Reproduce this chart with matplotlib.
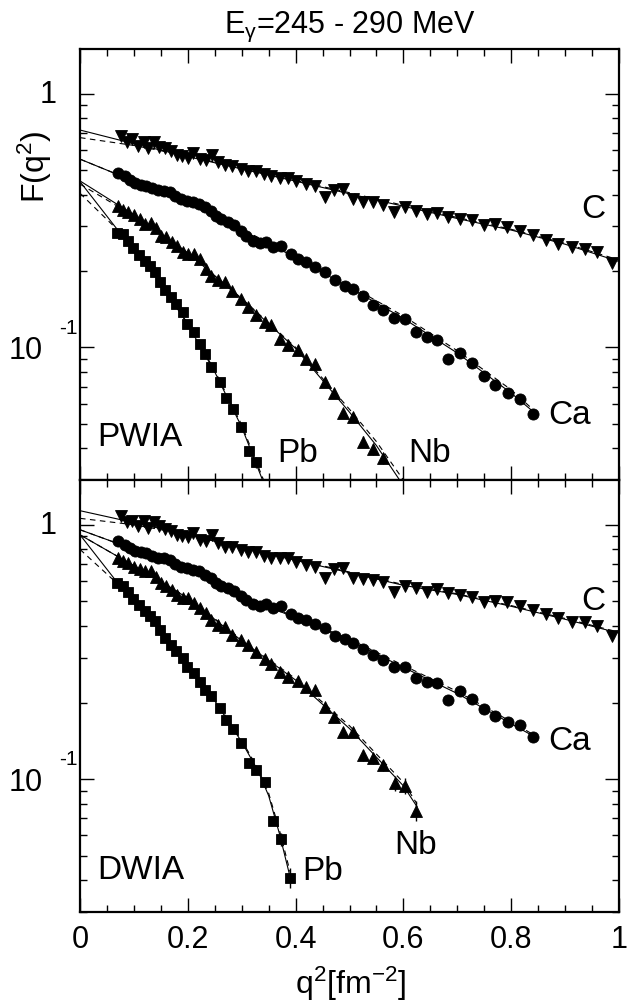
import numpy as np
import matplotlib
matplotlib.use("Agg")
import matplotlib.pyplot as plt

plt.rcParams['font.family'] = ['Liberation Sans', 'DejaVu Sans']
plt.rcParams['mathtext.fontset'] = 'custom'
plt.rcParams['mathtext.rm'] = 'Liberation Sans'
plt.rcParams['mathtext.it'] = 'Liberation Sans'
plt.rcParams['mathtext.bf'] = 'Liberation Sans:bold'

# ---------------- measured q^2 bins [fm^-2] ----------------
q_c = [0.0767, 0.0878, 0.0971, 0.1076, 0.1181, 0.1262, 0.1373, 0.1466, 0.1583, 0.1682,
       0.1800, 0.1899, 0.2004, 0.2096, 0.2220, 0.2332, 0.2449, 0.2560, 0.2684, 0.2826,
       0.2981, 0.3117, 0.3271, 0.3414, 0.3550, 0.3704, 0.3859, 0.4014, 0.4199, 0.4366,
       0.4539, 0.4712, 0.4879, 0.5071, 0.5257, 0.5442, 0.5628, 0.5826, 0.6030, 0.6234,
       0.6432, 0.6630, 0.6834, 0.7050, 0.7267, 0.7495, 0.7699, 0.7928, 0.8163, 0.8398,
       0.8646, 0.8874, 0.9122, 0.9369, 0.9598, 0.9864]
q_ca = [0.0705, 0.0829, 0.0921, 0.1027, 0.1138, 0.1231, 0.1336, 0.1447, 0.1552, 0.1664,
        0.1769, 0.1880, 0.1985, 0.2096, 0.2202, 0.2313, 0.2424, 0.2529, 0.2622, 0.2746,
        0.2857, 0.2981, 0.3086, 0.3210, 0.3333, 0.3457, 0.3581, 0.3723, 0.3909, 0.4045,
        0.4199, 0.4366, 0.4539, 0.4725, 0.4910, 0.5071, 0.5257, 0.5442, 0.5628, 0.5826,
        0.6030, 0.6234, 0.6432, 0.6630, 0.6834, 0.7050, 0.7267, 0.7495, 0.7699, 0.7947,
        0.8163, 0.8398]
q_nb = [0.0705, 0.0798, 0.0891, 0.1002, 0.1107, 0.1200, 0.1311, 0.1416, 0.1509, 0.1602,
        0.1713, 0.1806, 0.1911, 0.2004, 0.2115, 0.2220, 0.2332, 0.2437, 0.2560, 0.2684,
        0.2820, 0.2981, 0.3117, 0.3271, 0.3426, 0.3550, 0.3704, 0.3859, 0.4045, 0.4199,
        0.4366, 0.4539, 0.4712, 0.4879, 0.5071, 0.5257, 0.5442, 0.5628, 0.5844, 0.6030,
        0.6234]
q_pb = [0.0693, 0.0798, 0.0891, 0.0983, 0.1088, 0.1200, 0.1293, 0.1385, 0.1478, 0.1583,
        0.1694, 0.1787, 0.1911, 0.1991, 0.2115, 0.2220, 0.2313, 0.2437, 0.2591, 0.2715,
        0.2839, 0.2993, 0.3129, 0.3271, 0.3438, 0.3581, 0.3723, 0.3890]

# ---------------- PWIA form factors ----------------
c_pwia = [0.681, 0.645, 0.661, 0.623, 0.645, 0.608, 0.642, 0.619, 0.608, 0.595,
          0.574, 0.569, 0.560, 0.586, 0.552, 0.548, 0.572, 0.538, 0.523, 0.520,
          0.504, 0.497, 0.497, 0.482, 0.475, 0.467, 0.467, 0.453, 0.440, 0.431,
          0.390, 0.418, 0.420, 0.384, 0.375, 0.373, 0.364, 0.342, 0.359, 0.346,
          0.335, 0.340, 0.327, 0.321, 0.318, 0.304, 0.306, 0.297, 0.288, 0.278,
          0.266, 0.256, 0.248, 0.244, 0.237, 0.215]
ca_pwia = [0.4846, 0.4716, 0.4575, 0.4440, 0.4374, 0.4334, 0.4244, 0.4181, 0.4143, 0.4081,
           0.3960, 0.3842, 0.3784, 0.3727, 0.3671, 0.3562, 0.3456, 0.3304, 0.3206, 0.3111,
           0.3036, 0.2884, 0.2757, 0.2634, 0.2579, 0.2595, 0.2480, 0.2517, 0.2335, 0.2232,
           0.2165, 0.2070, 0.1978, 0.1835, 0.1753, 0.1701, 0.1591, 0.1463, 0.1398, 0.1304,
           0.1297, 0.1149, 0.1098, 0.1066, 0.0897, 0.0953, 0.0871, 0.0772, 0.0713, 0.0658,
           0.0625, 0.0544]
nb_pwia = [0.3594, 0.3488, 0.3424, 0.3322, 0.3206, 0.3064, 0.3092, 0.2946, 0.2757, 0.2716,
           0.2611, 0.2503, 0.2384, 0.2335, 0.2335, 0.2232, 0.2039, 0.1919, 0.1835, 0.1807,
           0.1661, 0.1553, 0.1441, 0.1336, 0.1258, 0.1221, 0.1082, 0.1018, 0.0973, 0.0902,
           0.0863, 0.0731, 0.0658, 0.0549, 0.0532, 0.0425, 0.0397, 0.0365]
pb_pwia = [0.2824, 0.2798, 0.2634, 0.2459, 0.2314, 0.2198, 0.2101, 0.1990, 0.1817, 0.1676,
           0.1577, 0.1485, 0.1377, 0.1240, 0.1149, 0.1034, 0.0945, 0.0837, 0.0731, 0.0629,
           0.0574, 0.0486, 0.0390, 0.0352]

# ---------------- DWIA form factors ----------------
c_dwia = [1.079, 1.025, 1.037, 0.985, 1.031, 0.970, 1.025, 0.985, 0.965, 0.942,
          0.913, 0.900, 0.892, 0.927, 0.873, 0.865, 0.908, 0.847, 0.821, 0.821,
          0.797, 0.785, 0.780, 0.757, 0.743, 0.739, 0.739, 0.717, 0.695, 0.685,
          0.620, 0.671, 0.675, 0.620, 0.612, 0.607, 0.598, 0.542, 0.576, 0.566,
          0.542, 0.559, 0.537, 0.530, 0.522, 0.498, 0.501, 0.495, 0.480, 0.462,
          0.444, 0.428, 0.415, 0.413, 0.401, 0.366]
ca_dwia = [0.860, 0.829, 0.809, 0.790, 0.780, 0.773, 0.757, 0.743, 0.739, 0.728,
           0.702, 0.685, 0.675, 0.665, 0.655, 0.635, 0.616, 0.589, 0.576, 0.566,
           0.549, 0.526, 0.506, 0.486, 0.480, 0.486, 0.469, 0.480, 0.444, 0.431,
           0.422, 0.409, 0.391, 0.366, 0.357, 0.344, 0.326, 0.307, 0.293, 0.276,
           0.276, 0.250, 0.241, 0.239, 0.204, 0.221, 0.207, 0.188, 0.177, 0.168,
           0.163, 0.147]
nb_dwia = [0.739, 0.721, 0.706, 0.685, 0.671, 0.655, 0.658, 0.625, 0.589, 0.576,
           0.554, 0.530, 0.514, 0.514, 0.491, 0.472, 0.448, 0.422, 0.403, 0.397,
           0.368, 0.352, 0.336, 0.316, 0.296, 0.284, 0.264, 0.252, 0.242, 0.230,
           0.223, 0.192, 0.175, 0.153, 0.153, 0.1244, 0.1207, 0.1136, 0.0964, 0.0941,
           0.0750]
pb_dwia = [0.589, 0.576, 0.546, 0.510, 0.483, 0.458, 0.439, 0.418, 0.385, 0.359,
           0.338, 0.318, 0.298, 0.276, 0.262, 0.241, 0.223, 0.212, 0.190, 0.171,
           0.158, 0.139, 0.116, 0.109, 0.097, 0.0685, 0.0580, 0.0409]

# relative statistical errors (only the tails are larger than the symbols)
nb_pwia_rel = [0.02] * 34 + [0.04, 0.05, 0.05, 0.05]
pb_pwia_rel = [0.02] * 20 + [0.03, 0.04, 0.04, 0.05]
nb_dwia_rel = [0.02] * 35 + [0.05, 0.05, 0.05, 0.07, 0.07, 0.09]
pb_dwia_rel = [0.02] * 24 + [0.03, 0.04, 0.06, 0.09]

# ---------------- fit curves (solid and dashed) ----------------
fq_c = [0.0, 0.1, 0.2, 0.3, 0.4, 0.5, 0.6, 0.7, 0.8, 0.9, 1.0]
fit_c_pw_solid = [0.719, 0.635, 0.565, 0.505, 0.452, 0.403, 0.360, 0.322, 0.290, 0.255, 0.218]
fit_c_pw_dash = [0.671, 0.625, 0.568, 0.508, 0.455, 0.407, 0.363, 0.325, 0.292, 0.257, 0.221]
fit_c_dw_solid = [1.136, 1.020, 0.915, 0.810, 0.725, 0.648, 0.578, 0.532, 0.478, 0.425, 0.375]
fit_c_dw_dash = [1.060, 1.000, 0.915, 0.815, 0.730, 0.652, 0.582, 0.535, 0.481, 0.428, 0.378]

fq_ca = [0.0, 0.1, 0.2, 0.3, 0.4, 0.5, 0.6, 0.7, 0.8, 0.84]
fit_ca_pw_solid = [0.552, 0.452, 0.370, 0.290, 0.226, 0.172, 0.130, 0.095, 0.066, 0.056]
fit_ca_pw_dash = [0.552, 0.452, 0.371, 0.292, 0.229, 0.175, 0.133, 0.097, 0.068, 0.057]
fit_ca_dw_solid = [0.956, 0.800, 0.672, 0.528, 0.430, 0.350, 0.275, 0.217, 0.165, 0.148]
fit_ca_dw_dash = [0.956, 0.800, 0.674, 0.531, 0.434, 0.355, 0.280, 0.221, 0.168, 0.150]

fq_nb_pw = [0.0, 0.1, 0.2, 0.3, 0.4, 0.5, 0.55, 0.6]
fit_nb_pw_solid = [0.453, 0.333, 0.236, 0.155, 0.099, 0.0555, 0.041, 0.0285]
fit_nb_pw_dash = [0.440, 0.330, 0.235, 0.156, 0.100, 0.0570, 0.0425, 0.0300]
fq_nb_dw = [0.0, 0.1, 0.2, 0.3, 0.4, 0.5, 0.6, 0.625]
fit_nb_dw_solid = [0.913, 0.690, 0.515, 0.350, 0.245, 0.158, 0.094, 0.078]
fit_nb_dw_dash = [0.913, 0.690, 0.517, 0.353, 0.248, 0.162, 0.097, 0.080]

fq_pb_pw = [0.0, 0.07, 0.1, 0.15, 0.2, 0.25, 0.3, 0.34]
fit_pb_pw_solid = [0.450, 0.290, 0.243, 0.178, 0.123, 0.080, 0.0485, 0.0295]
fit_pb_pw_dash = [0.405, 0.290, 0.244, 0.179, 0.124, 0.081, 0.0495, 0.0302]
fq_pb_dw = [0.0, 0.07, 0.1, 0.15, 0.2, 0.25, 0.3, 0.33, 0.35, 0.37, 0.39]
fit_pb_dw_solid = [0.913, 0.590, 0.505, 0.380, 0.278, 0.203, 0.140, 0.108, 0.086, 0.061, 0.041]
fit_pb_dw_dash = [0.800, 0.585, 0.505, 0.381, 0.280, 0.205, 0.142, 0.110, 0.088, 0.063, 0.043]

x_ticks = [0, 0.2, 0.4, 0.6, 0.8, 1.0]
x_ticklabels = ["0", "0.2", "0.4", "0.6", "0.8", "1"]

# ---------------- figure ----------------
W, H = 633, 1003
fig = plt.figure(figsize=(W / 100, H / 100), dpi=100)
L, R = 80, 619
ax_top = fig.add_axes([L / W, 1 - 481 / H, (R - L) / W, 431 / H])
ax_bot = fig.add_axes([L / W, 1 - 913 / H, (R - L) / W, 432 / H])

FS_TICK = 22
FS_LAB = 24

def style_axes(ax):
    ax.set_xlim(0, 1)
    ax.set_yscale('log')
    ax.set_ylim(0.03, 1.5)
    ax.set_xticks(x_ticks)
    ax.set_xticks(np.arange(0, 1.0001, 0.05), minor=True)
    ax.tick_params(which='both', direction='in', top=True, right=True, width=1.0,
                   labelsize=FS_TICK)
    ax.tick_params(which='major', length=10)
    ax.tick_params(which='minor', length=5)
    ax.set_yticks([0.1, 1.0])
    ax.set_yticklabels(["", ""])
    for s in ax.spines.values():
        s.set_linewidth(1.6)
    # y tick labels in the "10 ^-1" style
    kw = dict(xycoords=('axes fraction', 'data'), textcoords='offset points')
    ax.annotate("1", xy=(0, 1.0), xytext=(-17.0, 0), ha='right', va='center',
                fontsize=FS_TICK, **kw)
    ax.annotate("10", xy=(0, 0.1), xytext=(-26.5, -2.2), ha='right', va='center',
                fontsize=FS_TICK, **kw)
    ax.annotate("-1", xy=(0, 0.1), xytext=(-15.0, 14.5), ha='left', va='center',
                fontsize=15, **kw)

def draw_fit(ax, q, solid, dash):
    ax.plot(q, dash, color='k', lw=0.8, ls=(0, (5, 4)), zorder=2)
    ax.plot(q, solid, color='k', lw=0.8, zorder=2)

def draw_data(ax, q, vals, marker, ms, rel=None):
    q = q[:len(vals)]
    v = np.array(vals)
    yerr = None if rel is None else v * np.array(rel)
    ax.errorbar(q, v, yerr=yerr, fmt=marker, color='k', ms=ms, mew=0.6, mec='k',
                elinewidth=1.0, capsize=0, zorder=3)

for ax in (ax_top, ax_bot):
    style_axes(ax)

# PWIA panel
draw_fit(ax_top, fq_c, fit_c_pw_solid, fit_c_pw_dash)
draw_fit(ax_top, fq_ca, fit_ca_pw_solid, fit_ca_pw_dash)
draw_fit(ax_top, fq_nb_pw, fit_nb_pw_solid, fit_nb_pw_dash)
draw_fit(ax_top, fq_pb_pw, fit_pb_pw_solid, fit_pb_pw_dash)
draw_data(ax_top, q_c, c_pwia, 'v', 8.6)
draw_data(ax_top, q_ca, ca_pwia, 'o', 8.0)
draw_data(ax_top, q_nb, nb_pwia, '^', 8.6, nb_pwia_rel)
draw_data(ax_top, q_pb, pb_pwia, 's', 7.0, pb_pwia_rel)

# DWIA panel
draw_fit(ax_bot, fq_c, fit_c_dw_solid, fit_c_dw_dash)
draw_fit(ax_bot, fq_ca, fit_ca_dw_solid, fit_ca_dw_dash)
draw_fit(ax_bot, fq_nb_dw, fit_nb_dw_solid, fit_nb_dw_dash)
draw_fit(ax_bot, fq_pb_dw, fit_pb_dw_solid, fit_pb_dw_dash)
draw_data(ax_bot, q_c, c_dwia, 'v', 8.6)
draw_data(ax_bot, q_ca, ca_dwia, 'o', 8.0)
draw_data(ax_bot, q_nb, nb_dwia, '^', 8.6, nb_dwia_rel)
draw_data(ax_bot, q_pb, pb_dwia, 's', 7.0, pb_dwia_rel)

ax_top.tick_params(axis='x', labelbottom=False)
ax_bot.set_xticklabels(x_ticklabels)
ax_bot.tick_params(axis='x', pad=9)

# nucleus and model labels
lab = dict(fontsize=FS_LAB, ha='center', va='center')
ax_top.text(0.952, 0.629, "C", transform=ax_top.transAxes, **lab)
ax_top.text(0.909, 0.153, "Ca", transform=ax_top.transAxes, **lab)
ax_top.text(0.403, 0.063, "Pb", transform=ax_top.transAxes, **lab)
ax_top.text(0.649, 0.063, "Nb", transform=ax_top.transAxes, **lab)
ax_top.text(0.111, 0.100, "PWIA", transform=ax_top.transAxes, **lab)
ax_bot.text(0.952, 0.722, "C", transform=ax_bot.transAxes, **lab)
ax_bot.text(0.909, 0.398, "Ca", transform=ax_bot.transAxes, **lab)
ax_bot.text(0.622, 0.157, "Nb", transform=ax_bot.transAxes, **lab)
ax_bot.text(0.451, 0.097, "Pb", transform=ax_bot.transAxes, **lab)
ax_bot.text(0.113, 0.0995, "DWIA", transform=ax_bot.transAxes, **lab)

fig.text(349.5 / W, 1 - 27 / H, r"E$_{\gamma}$=245 - 290 MeV", fontsize=22,
         ha='center', va='center')
fig.text(35 / W, 1 - 167 / H, r"F(q$^{2}$)", fontsize=23, rotation=90,
         ha='center', va='center')
fig.text(351 / W, 1 - 984 / H, r"q$^{2}$[fm$^{-2}$]", fontsize=23,
         ha='center', va='center')

fig.savefig("out.png", dpi=100)
